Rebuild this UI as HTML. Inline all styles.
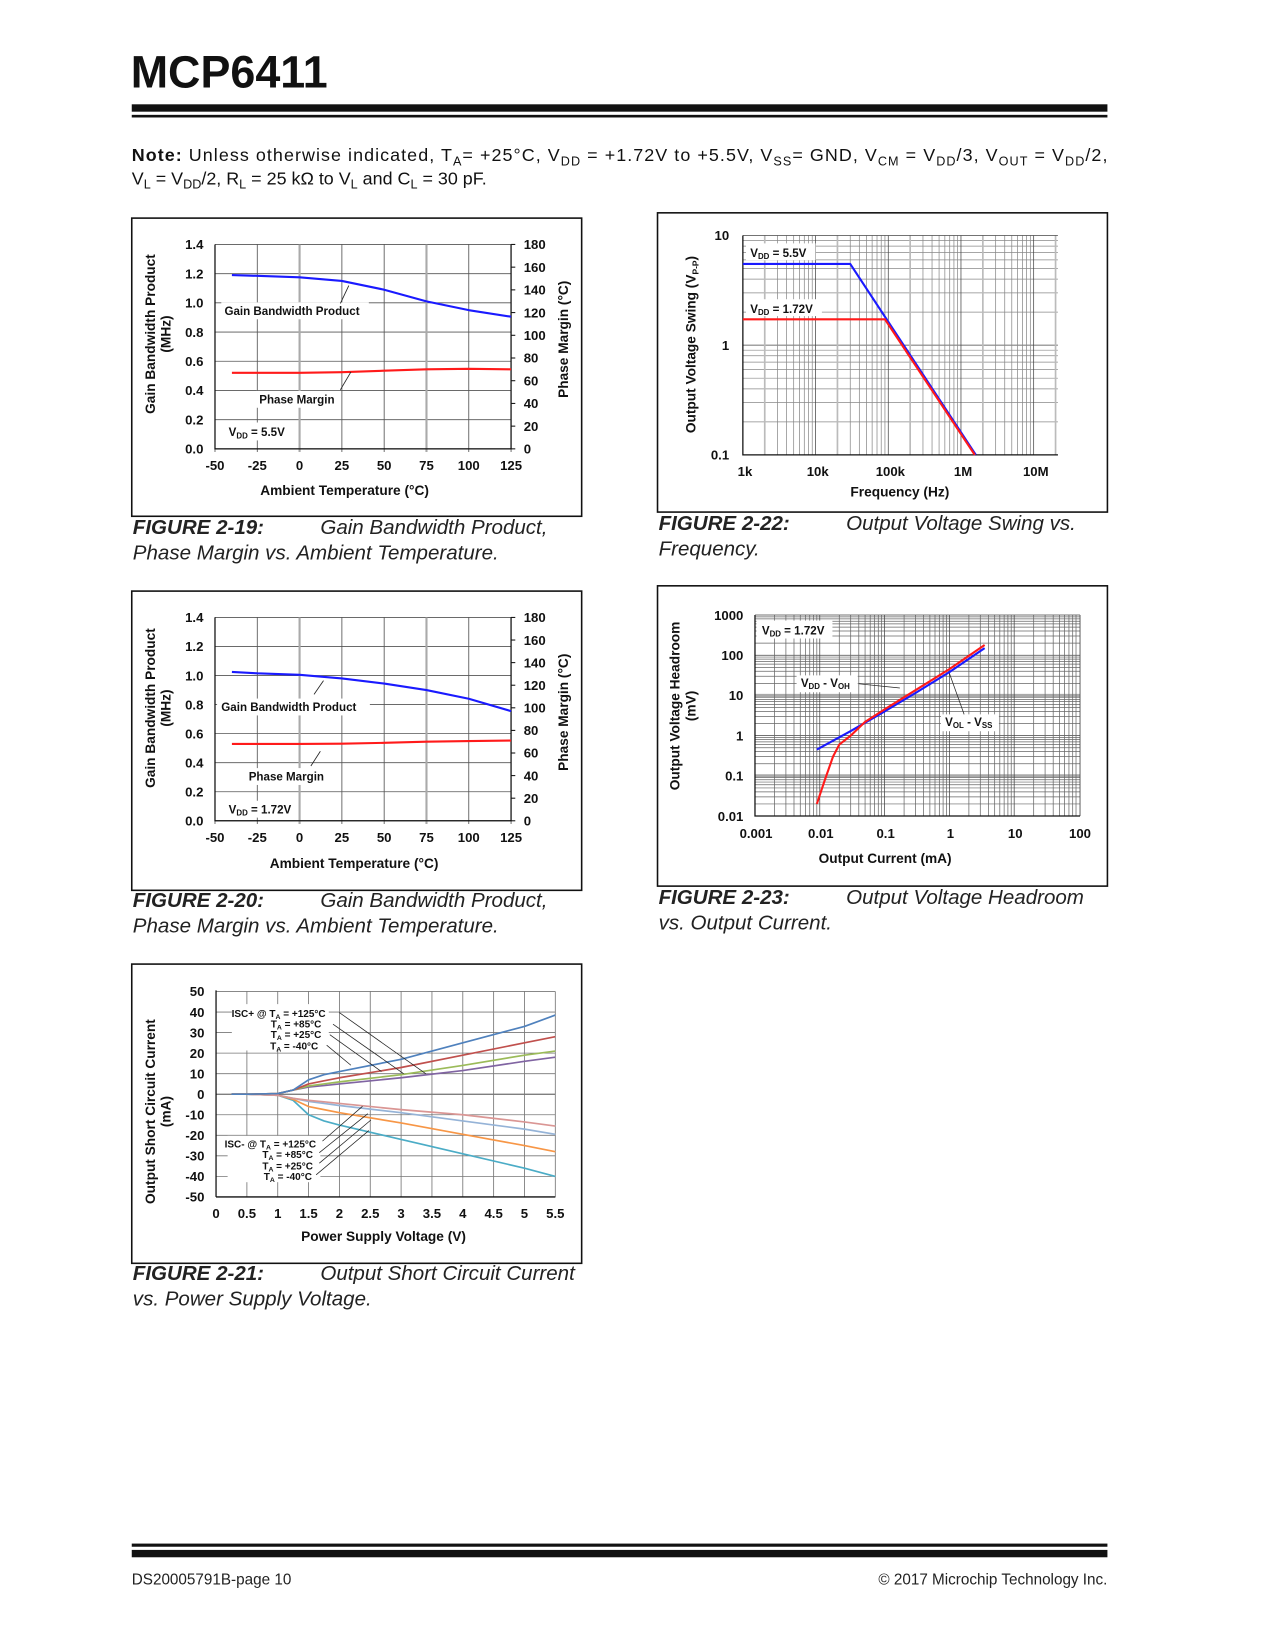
<!DOCTYPE html>
<html><head><meta charset="utf-8"><title>MCP6411 page 10</title>
<style>
html,body{margin:0;padding:0;background:#fff;}
svg{display:block;}
text{font-family:"Liberation Sans",Arial,sans-serif;}
.t{font-size:12.5px;font-weight:bold;fill:#111;}
.ax{font-size:13px;font-weight:bold;fill:#111;}
.an{font-size:11px;font-weight:bold;fill:#111;}
.sm{font-size:9.5px;font-weight:bold;fill:#111;}
.cap{font-size:19.5px;font-style:italic;fill:#222;}
.capb{font-size:19.5px;font-style:italic;font-weight:bold;fill:#222;}
</style></head>
<body>
<svg id="page" width="1275" height="1650" viewBox="0 0 1210 1566" xmlns="http://www.w3.org/2000/svg">
<rect width="1210" height="1566" fill="#fff"/>
<text x="124" y="83" font-size="43" font-weight="bold" fill="#111" textLength="187" lengthAdjust="spacingAndGlyphs">MCP6411</text>
<rect x="125" y="99" width="926" height="7" fill="#111"/>
<rect x="125" y="109" width="926" height="2.5" fill="#111"/>
<text x="125" y="153" font-size="17" fill="#111" textLength="926" lengthAdjust="spacing"><tspan font-weight="bold">Note:</tspan> Unless otherwise indicated, T<tspan font-size="12" dy="4">A</tspan><tspan dy="-4">= +25°C, V</tspan><tspan font-size="12" dy="4">DD</tspan><tspan dy="-4"> = +1.72V to +5.5V, V</tspan><tspan font-size="12" dy="4">SS</tspan><tspan dy="-4">= GND, V</tspan><tspan font-size="12" dy="4">CM</tspan><tspan dy="-4"> = V</tspan><tspan font-size="12" dy="4">DD</tspan><tspan dy="-4">/3, V</tspan><tspan font-size="12" dy="4">OUT</tspan><tspan dy="-4"> = V</tspan><tspan font-size="12" dy="4">DD</tspan><tspan dy="-4">/2,</tspan></text>
<text x="125" y="175" font-size="17" fill="#111">V<tspan font-size="12" dy="4">L</tspan><tspan dy="-4"> = V</tspan><tspan font-size="12" dy="4">DD</tspan><tspan dy="-4">/2, R</tspan><tspan font-size="12" dy="4">L</tspan><tspan dy="-4"> = 25 kΩ to V</tspan><tspan font-size="12" dy="4">L</tspan><tspan dy="-4"> and C</tspan><tspan font-size="12" dy="4">L</tspan><tspan dy="-4"> = 30 pF.</tspan></text>

<!-- Figure boxes -->
<rect x="125" y="207" width="427" height="283" fill="none" stroke="#111" stroke-width="1.5"/>
<rect x="125" y="561" width="427" height="284" fill="none" stroke="#111" stroke-width="1.5"/>
<rect x="125" y="915" width="427" height="284" fill="none" stroke="#111" stroke-width="1.5"/>
<rect x="624" y="202" width="427" height="284" fill="none" stroke="#111" stroke-width="1.5"/>
<rect x="624" y="556" width="427" height="285" fill="none" stroke="#111" stroke-width="1.5"/>

<g id="g19"></g>
<g id="g20"></g>
<g id="g21"></g>
<g id="g22"></g>
<g id="g23"></g>

<!-- Fig 19 static text -->
<text class="ax" transform="translate(147,317) rotate(-90)" text-anchor="middle">Gain Bandwidth Product</text>
<text class="ax" transform="translate(162,317) rotate(-90)" text-anchor="middle">(MHz)</text>
<text class="ax" transform="translate(539,322) rotate(-90)" text-anchor="middle">Phase Margin (°C)</text>
<text class="ax" x="327" y="470" text-anchor="middle">Ambient Temperature (°C)</text>
<rect x="210" y="287" width="140" height="16" fill="#fff"/>
<text class="an" x="213" y="299">Gain Bandwidth Product</text>
<line x1="323" y1="288" x2="331" y2="271" stroke="#222" stroke-width="0.8"/>
<rect x="243" y="371" width="80" height="16" fill="#fff"/>
<text class="an" x="246" y="383">Phase Margin</text>
<line x1="323" y1="370" x2="333" y2="353" stroke="#222" stroke-width="0.8"/>
<rect x="213" y="401" width="62" height="17" fill="#fff"/>
<text class="an" x="217" y="414">V<tspan font-size="7.5" dy="2">DD</tspan><tspan dy="-2"> = 5.5V</tspan></text>
<text x="126" y="507"><tspan class="capb">FIGURE 2-19:</tspan><tspan class="cap" x="304">Gain Bandwidth Product,</tspan></text>
<text class="cap" x="126" y="531">Phase Margin vs. Ambient Temperature.</text>

<!-- Fig 20 static text -->
<text class="ax" transform="translate(147,672) rotate(-90)" text-anchor="middle">Gain Bandwidth Product</text>
<text class="ax" transform="translate(162,672) rotate(-90)" text-anchor="middle">(MHz)</text>
<text class="ax" transform="translate(539,676) rotate(-90)" text-anchor="middle">Phase Margin (°C)</text>
<text class="ax" x="336" y="824" text-anchor="middle">Ambient Temperature (°C)</text>
<rect x="206" y="663" width="145" height="16" fill="#fff"/>
<text class="an" x="210" y="675">Gain Bandwidth Product</text>
<line x1="298" y1="659" x2="307" y2="646" stroke="#222" stroke-width="0.8"/>
<rect x="233" y="729" width="80" height="16" fill="#fff"/>
<text class="an" x="236" y="741">Phase Margin</text>
<line x1="295" y1="727" x2="304" y2="713" stroke="#222" stroke-width="0.8"/>
<rect x="213" y="760" width="68" height="16" fill="#fff"/>
<text class="an" x="217" y="772">V<tspan font-size="7.5" dy="2">DD</tspan><tspan dy="-2"> = 1.72V</tspan></text>
<text x="126" y="861"><tspan class="capb">FIGURE 2-20:</tspan><tspan class="cap" x="304">Gain Bandwidth Product,</tspan></text>
<text class="cap" x="126" y="885">Phase Margin vs. Ambient Temperature.</text>

<!-- Fig 21 static text -->
<text class="ax" transform="translate(147,1055) rotate(-90)" text-anchor="middle">Output Short Circuit Current</text>
<text class="ax" transform="translate(162,1055) rotate(-90)" text-anchor="middle">(mA)</text>
<text class="ax" x="364" y="1178" text-anchor="middle">Power Supply Voltage (V)</text>
<g>
<rect x="220" y="953" width="92" height="44" fill="#fff"/>
<text class="sm" x="309" y="965" text-anchor="end">ISC+ @ T<tspan font-size="6.5" dy="2">A</tspan><tspan dy="-2"> = +125°C</tspan></text>
<text class="sm" x="305" y="975" text-anchor="end">T<tspan font-size="6.5" dy="2">A</tspan><tspan dy="-2"> = +85°C</tspan></text>
<text class="sm" x="305" y="985" text-anchor="end">T<tspan font-size="6.5" dy="2">A</tspan><tspan dy="-2"> = +25°C</tspan></text>
<text class="sm" x="302" y="996" text-anchor="end">T<tspan font-size="6.5" dy="2">A</tspan><tspan dy="-2"> = -40°C</tspan></text>
</g>
<g>
<rect x="216" y="1078" width="88" height="44" fill="#fff"/>
<text class="sm" x="300" y="1089" text-anchor="end">ISC- @ T<tspan font-size="6.5" dy="2">A</tspan><tspan dy="-2"> = +125°C</tspan></text>
<text class="sm" x="297" y="1099" text-anchor="end">T<tspan font-size="6.5" dy="2">A</tspan><tspan dy="-2"> = +85°C</tspan></text>
<text class="sm" x="297" y="1110" text-anchor="end">T<tspan font-size="6.5" dy="2">A</tspan><tspan dy="-2"> = +25°C</tspan></text>
<text class="sm" x="296" y="1120" text-anchor="end">T<tspan font-size="6.5" dy="2">A</tspan><tspan dy="-2"> = -40°C</tspan></text>
</g>
<g stroke="#222" stroke-width="0.7" fill="none">
<line x1="322" y1="961" x2="404" y2="1019"/>
<line x1="316" y1="972" x2="383" y2="1019"/>
<line x1="313" y1="982" x2="362" y2="1017"/>
<line x1="310" y1="992" x2="333" y2="1011"/>
<line x1="306" y1="1083" x2="344" y2="1050"/>
<line x1="303" y1="1094" x2="349" y2="1057"/>
<line x1="303" y1="1104" x2="352" y2="1063"/>
<line x1="300" y1="1115" x2="350" y2="1073"/>
</g>
<text x="126" y="1215"><tspan class="capb">FIGURE 2-21:</tspan><tspan class="cap" x="304">Output Short Circuit Current</tspan></text>
<text class="cap" x="126" y="1239">vs. Power Supply Voltage.</text>

<!-- Fig 22 static text -->
<text class="ax" transform="translate(660,327) rotate(-90)" text-anchor="middle">Output Voltage Swing (V<tspan font-size="8" dy="3">P-P</tspan><tspan dy="-3">)</tspan></text>
<text class="ax" x="854" y="471" text-anchor="middle">Frequency (Hz)</text>
<rect x="708" y="231" width="66" height="16" fill="#fff"/>
<text class="an" x="712" y="244">V<tspan font-size="7.5" dy="2">DD</tspan><tspan dy="-2"> = 5.5V</tspan></text>
<rect x="708" y="284" width="72" height="16" fill="#fff"/>
<text class="an" x="712" y="297">V<tspan font-size="7.5" dy="2">DD</tspan><tspan dy="-2"> = 1.72V</tspan></text>
<text x="625" y="503"><tspan class="capb">FIGURE 2-22:</tspan><tspan class="cap" x="803">Output Voltage Swing vs.</tspan></text>
<text class="cap" x="625" y="527">Frequency.</text>

<!-- Fig 23 static text -->
<text class="ax" transform="translate(645,670) rotate(-90)" text-anchor="middle">Output Voltage Headroom</text>
<text class="ax" transform="translate(660,670) rotate(-90)" text-anchor="middle">(mV)</text>
<text class="ax" x="840" y="819" text-anchor="middle">Output Current (mA)</text>
<rect x="718" y="589" width="72" height="17" fill="#fff"/>
<text class="an" x="723" y="602">V<tspan font-size="7.5" dy="2">DD</tspan><tspan dy="-2"> = 1.72V</tspan></text>
<rect x="756" y="641" width="58" height="16" fill="#fff"/>
<text class="an" x="760" y="652">V<tspan font-size="7.5" dy="2">DD</tspan><tspan dy="-2"> - V</tspan><tspan font-size="7.5" dy="2">OH</tspan></text>
<line x1="815" y1="649" x2="854" y2="653" stroke="#222" stroke-width="0.7"/>
<rect x="893" y="678" width="55" height="16" fill="#fff"/>
<text class="an" x="897" y="689">V<tspan font-size="7.5" dy="2">OL</tspan><tspan dy="-2"> - V</tspan><tspan font-size="7.5" dy="2">SS</tspan></text>
<line x1="915" y1="678" x2="901" y2="639" stroke="#222" stroke-width="0.7"/>
<text x="625" y="858"><tspan class="capb">FIGURE 2-23:</tspan><tspan class="cap" x="803">Output Voltage Headroom</tspan></text>
<text class="cap" x="625" y="882">vs. Output Current.</text>

<!-- Footer -->
<rect x="125" y="1465" width="926" height="3" fill="#111"/>
<rect x="125" y="1471" width="926" height="7" fill="#111"/>
<text x="125" y="1504" font-size="14.5" fill="#222">DS20005791B-page 10</text>
<text x="1051" y="1504" font-size="14.5" fill="#222" text-anchor="end">© 2017 Microchip Technology Inc.</text>
</svg>

<script>
// ---- Figure 2-19 data (VDD = 5.5V) ----
const f19Temps = [-40, -25, 0, 25, 50, 75, 100, 125];
const f19Gbw = [1.19, 1.185, 1.175, 1.15, 1.09, 1.01, 0.95, 0.905];
const f19Pm = [67, 67, 67, 67.5, 68.8, 70, 70.5, 70];
// ---- Figure 2-20 data (VDD = 1.72V) ----
const f20Temps = [-40, -25, 0, 25, 50, 75, 100, 125];
const f20Gbw = [1.025, 1.015, 1.005, 0.98, 0.945, 0.9, 0.84, 0.755];
const f20Pm = [68, 68, 68, 68.2, 69, 70, 70.6, 71];
const tempTicks = [-50, -25, 0, 25, 50, 75, 100, 125];
const gbwTicks = [0.0, 0.2, 0.4, 0.6, 0.8, 1.0, 1.2, 1.4];
const pmTicks = [0, 20, 40, 60, 80, 100, 120, 140, 160, 180];
// ---- Figure 2-21 data ----
const f21Vdd = [0.25, 0.5, 1.0, 1.25, 1.5, 1.75, 2.0, 3.0, 4.0, 5.0, 5.5];
const iscP125 = [0, 0, 0.3, 2, 7, 9.5, 11, 17, 25, 33, 38.5];
const iscP85 = [0, 0, 0.3, 2, 5, 6.5, 8, 13, 19, 25, 28];
const iscP25 = [0, 0, 0.3, 2, 4, 5, 6, 9.5, 14, 19, 21];
const iscPm40 = [0, 0, 0.3, 2, 3.5, 4.2, 5, 8, 11.5, 16, 18];
const iscM125 = [0, 0, -0.5, -2, -3, -3.7, -4.5, -7.5, -10, -13.5, -15.5];
const iscM85 = [0, 0, -0.5, -2, -3.5, -4.5, -5.5, -9, -13, -17, -19.5];
const iscM25 = [0, 0, -0.5, -2.5, -6, -7.5, -9, -14, -19.5, -25, -28];
const iscMm40 = [0, 0, -0.5, -3, -10, -13, -15, -22, -29, -36, -40];
const iscTicks = [50, 40, 30, 20, 10, 0, -10, -20, -30, -40, -50];
const vddTicks = ['0', '0.5', '1', '1.5', '2', '2.5', '3', '3.5', '4', '4.5', '5', '5.5'];
// ---- Figure 2-22 data ----
const f22Freq55 = [1000, 30000, 1600000];
const f22Swing55 = [5.5, 5.5, 0.1];
const f22Freq172 = [1000, 90000, 1550000];
const f22Swing172 = [1.72, 1.72, 0.1];
const freqTicks = ['1k', '10k', '100k', '1M', '10M'];
const swingTicks = ['0.1', '1', '10'];
// ---- Figure 2-23 data ----
const f23IolCur = [0.009, 0.03, 0.1, 0.3, 1, 3.5];
const f23Vol = [0.45, 1.3, 4, 11.5, 38, 150];
const f23IohCur = [0.009, 0.012, 0.016, 0.02, 0.03, 0.05, 0.1, 0.3, 1, 3.5];
const f23Voh = [0.02, 0.08, 0.3, 0.6, 1.0, 2.2, 4.5, 13.5, 45, 180];
const curTicks = ['0.001', '0.01', '0.1', '1', '10', '100'];
const headTicks = ['0.01', '0.1', '1', '10', '100', '1000'];

const NS = 'http://www.w3.org/2000/svg';
function mk(parent, tag, attrs) {
  const e = document.createElementNS(NS, tag);
  for (const k in attrs) e.setAttribute(k, attrs[k]);
  parent.appendChild(e);
  return e;
}
function ln(parent, x1, y1, x2, y2, stroke, w) {
  return mk(parent, 'line', {x1: x1, y1: y1, x2: x2, y2: y2, stroke: stroke, 'stroke-width': w});
}
function txt(parent, x, y, s, anchor, cls) {
  const e = mk(parent, 'text', {x: x, y: y, 'text-anchor': anchor, 'class': cls});
  e.textContent = s;
  return e;
}
function series(parent, xs, ys, fx, fy, color, w) {
  let d = '';
  for (let i = 0; i < xs.length; i++) d += (i ? 'L' : 'M') + fx(xs[i]).toFixed(2) + ',' + fy(ys[i]).toFixed(2);
  return mk(parent, 'path', {d: d, fill: 'none', stroke: color, 'stroke-width': w, 'stroke-linejoin': 'round'});
}

// ---------- temperature charts ----------
function tempChart(gid, L, R, T, B, temps, gbw, pm, prefix) {
  const g = document.getElementById(gid);
  const fx = v => L + (v + 50) / 175 * (R - L);
  const fy = v => B - v / 1.4 * (B - T);
  const fyR = v => B - v / 180 * (B - T);
  for (const v of gbwTicks) {
    const e = ln(g, L, fy(v), R, fy(v), '#555', 0.8);
    
    
    const t = txt(g, L - 11, fy(v) + 4.5, v.toFixed(1), 'end', 't');
    
    
  }
  for (const v of tempTicks) {
    const light = (v === 0 || v === 75);
    const e = ln(g, fx(v), T, fx(v), B + 3, light ? '#aaa' : '#555', light ? 2 : 0.8);
    
    
    const t = txt(g, fx(v), B + 20, String(v), 'middle', 't');
    
    
  }
  for (const v of pmTicks) {
    const e = ln(g, R, fyR(v), R + 4, fyR(v), '#111', 1);
    
    
    const t = txt(g, R + 12, fyR(v) + 4.5, String(v), 'start', 't');
    
    
  }
  const ax = mk(g, 'path', {d: 'M' + L + ',' + T + 'V' + B + 'H' + R + 'V' + T, fill: 'none', stroke: '#111', 'stroke-width': 1.2});
  
  
  const s1 = series(g, temps, gbw, fx, fy, '#1a1aff', 2);
  
  
  const s2 = series(g, temps, pm, fx, fyR, '#ff1a1a', 2);
  
  
}
tempChart('g19', 204, 485, 232, 426, f19Temps, f19Gbw, f19Pm, 'fig19');
tempChart('g20', 204, 485, 586, 779, f20Temps, f20Gbw, f20Pm, 'fig20');

// ---------- Fig 2-21 ----------
(function () {
  const g = document.getElementById('g21');
  const L = 205, R = 527, T = 941, B = 1136;
  const fx = v => L + v / 5.5 * (R - L);
  const fy = v => T + (50 - v) / 100 * (B - T);
  for (const v of iscTicks) {
    const e = ln(g, L, fy(v), R, fy(v), v === 0 ? '#333' : '#777', 0.8);
    
    
    const t = txt(g, L - 11, fy(v) + 4.5, String(v), 'end', 't');
    
    
  }
  for (let i = 0; i < vddTicks.length; i++) {
    const v = parseFloat(vddTicks[i]);
    const e = ln(g, fx(v), T, fx(v), B, '#777', 0.8);
    
    
    const t = txt(g, fx(v), B + 20, vddTicks[i], 'middle', 't');
    
    
  }
  const ax = ln(g, L, T - 1, L, B, '#111', 1.2);
  
  
  const ax2 = ln(g, L, B, R, B, '#111', 1.2);
  
  
  let s;
  s = series(g, f21Vdd, iscMm40, fx, fy, '#4bacc6', 1.6);
  
  
  s = series(g, f21Vdd, iscM25, fx, fy, '#f79646', 1.6);
  
  
  s = series(g, f21Vdd, iscM85, fx, fy, '#95b3d7', 1.6);
  
  
  s = series(g, f21Vdd, iscM125, fx, fy, '#da9694', 1.6);
  
  
  s = series(g, f21Vdd, iscPm40, fx, fy, '#8064a2', 1.6);
  
  
  s = series(g, f21Vdd, iscP25, fx, fy, '#9bbb59', 1.6);
  
  
  s = series(g, f21Vdd, iscP85, fx, fy, '#c0504d', 1.6);
  
  
  s = series(g, f21Vdd, iscP125, fx, fy, '#4f81bd', 1.6);
  
  
})();

// ---------- Fig 2-22 ----------
(function () {
  const g = document.getElementById('g22');
  const L = 705, R = 1004, T = 223.5, B = 431.7;
  const fx = f => L + (Math.log10(f) - 3) * 69;
  const fy = v => (T + B) / 2 - Math.log10(v) * (B - T) / 2;
  for (let dec = -1; dec <= 0; dec++) {
    for (let m = 1; m <= 9; m++) {
      const v = m * Math.pow(10, dec);
      const e = ln(g, L, fy(v), R, fy(v), m === 1 ? '#444' : '#888', 0.7);
      
      
    }
  }
  for (let dec = 3; dec <= 7; dec++) {
    for (let m = 1; m <= 9; m++) {
      const f = m * Math.pow(10, dec);
      const x = fx(f);
      if (x > R + 0.5) continue;
      const e = ln(g, x, T, x, B, m === 1 ? '#444' : (m === 2 ? '#bbb' : '#888'), m === 2 ? 1.6 : 0.7);
      
      
    }
  }
  const top = ln(g, L, T, R, T, '#444', 0.8);
  
  
  for (let i = 0; i < freqTicks.length; i++) {
    const t = txt(g, fx(Math.pow(10, 3 + i)) + 2, B + 20, freqTicks[i], 'middle', 't');
    
    
  }
  for (let i = 0; i < swingTicks.length; i++) {
    const t = txt(g, L - 13, fy(parseFloat(swingTicks[i])) + 4.5, swingTicks[i], 'end', 't');
    
    
  }
  const ax = mk(g, 'path', {d: 'M' + L + ',' + T + 'V' + B + 'H' + R, fill: 'none', stroke: '#111', 'stroke-width': 1.2});
  
  
  let s = series(g, f22Freq55, f22Swing55, fx, fy, '#1a1aff', 2);
  
  
  s = series(g, f22Freq172, f22Swing172, fx, fy, '#ff1a1a', 2);
  
  
})();

// ---------- Fig 2-23 ----------
(function () {
  const g = document.getElementById('g23');
  const L = 716.5, R = 1025, T = 583.7, B = 774.5;
  const fx = i => L + (Math.log10(i) + 3) * 61.5;
  const fy = v => B - (Math.log10(v) + 2) * (B - T) / 5;
  for (let dec = -2; dec <= 2; dec++) {
    for (let m = 1; m <= 9; m++) {
      const v = m * Math.pow(10, dec);
      const thick = (m === 1 && (dec === 1 || dec === -1));
      const e = ln(g, L, fy(v), R, fy(v), thick ? '#aaa' : (m === 1 ? '#444' : '#666'), thick ? 3 : 0.7);
      
      
    }
  }
  for (let dec = -3; dec <= 1; dec++) {
    for (let m = 1; m <= 9; m++) {
      const x = fx(m * Math.pow(10, dec));
      const e = ln(g, x, T, x, B, m === 1 ? '#444' : '#666', 0.7);
      
      
    }
  }
  const rt = ln(g, R, T, R, B, '#444', 0.8);
  
  
  const tp = ln(g, L, T, R, T, '#444', 0.8);
  
  
  for (let i = 0; i < curTicks.length; i++) {
    const t = txt(g, fx(parseFloat(curTicks[i])) + 1, B + 21, curTicks[i], 'middle', 't');
    
    
  }
  for (let i = 0; i < headTicks.length; i++) {
    const t = txt(g, L - 11, fy(parseFloat(headTicks[i])) + 4.5, headTicks[i], 'end', 't');
    
    
  }
  const ax = mk(g, 'path', {d: 'M' + L + ',' + T + 'V' + B + 'H' + R, fill: 'none', stroke: '#111', 'stroke-width': 1.2});
  
  
  let s = series(g, f23IolCur, f23Vol, fx, fy, '#1a1aff', 2);
  
  
  s = series(g, f23IohCur, f23Voh, fx, fy, '#ff1a1a', 2);
  
  
})();
</script>
</body></html>
